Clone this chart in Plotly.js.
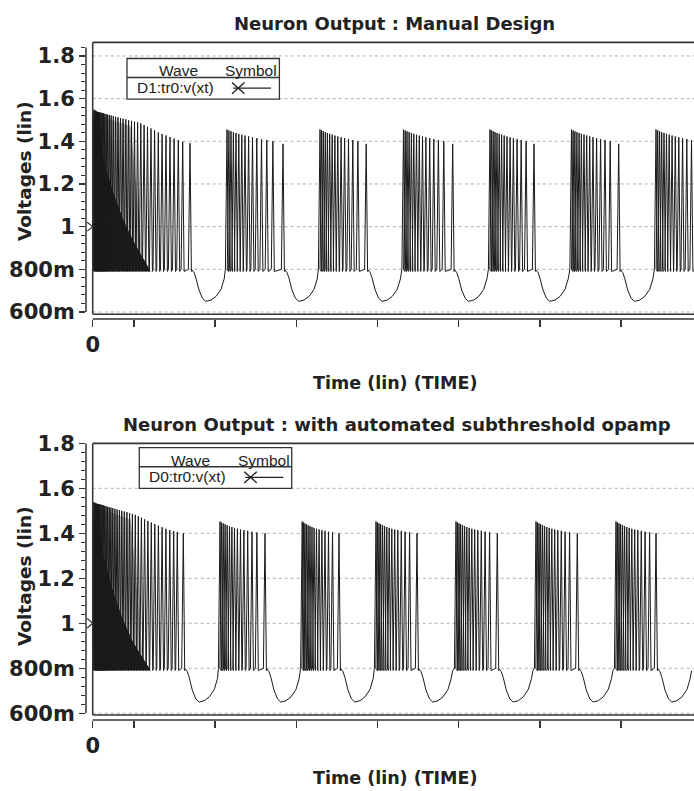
<!DOCTYPE html>
<html><head><meta charset="utf-8">
<script src="https://cdn.plot.ly/plotly-3.0.1.min.js"></script>
<style>html,body{margin:0;padding:0;background:#fff}</style>
</head><body><div id="chart" style="width:694px;height:791px"></div>
<script>
// ---------------- DATA (time in arbitrary units from 0, voltage in V) ----------------
const yTickVals = [0.6, 0.8, 1.0, 1.2, 1.4, 1.6, 1.8];
const yTickText = ['600m', '800m', '1', '1.2', '1.4', '1.6', '1.8'];
const xTickVals = [0, 41.3, 122.45, 203.6, 284.75, 365.9, 447.05, 528.2];
const xTickText = ['0', '', '', '', '', '', '', ''];

// spike times and spike peak voltages, chart 1 (Manual Design), one burst per line
const topSpikeTimes = [
  1.2, 2.1, 3.0, 3.9, 4.8, 5.7, 6.6, 7.5, 8.5, 9.6, 10.8, 12.1, 13.5, 15.0, 16.7, 18.5, 20.6, 22.9, 25.3, 27.8,
  30.4, 33.1, 35.9, 38.8, 41.8, 44.9, 48.1, 51.4, 54.8, 58.3, 61.9, 65.6, 69.4, 73.3, 77.3, 81.4, 85.6, 90.0, 97.3,
  134.3, 136.2, 138.3, 140.7, 143.3, 146.1, 149.1, 152.3, 155.9, 159.8, 164.1, 168.8, 174.1, 180.2, 190.3,
  227.3, 228.9, 230.6, 232.6, 234.7, 237.0, 239.5, 242.2, 245.1, 248.4, 251.9, 255.8, 260.1, 265.2, 273.5,
  310.8, 312.5, 314.3, 316.4, 318.7, 321.1, 323.8, 326.6, 329.8, 333.2, 337.0, 341.1, 345.7, 351.1, 360.0,
  397.3, 398.8, 400.5, 402.3, 404.3, 406.5, 408.9, 411.5, 414.3, 417.4, 420.7, 424.4, 428.5, 433.4, 441.3,
  478.8, 480.4, 482.2, 484.2, 486.4, 488.7, 491.3, 494.0, 497.0, 500.3, 503.9, 507.9, 512.3, 517.5, 526.0,
  563.3, 565.0, 566.9, 569.0, 571.3, 573.8, 576.5, 579.4, 582.6, 586.1, 589.9, 594.1, 598.8, 604.3, 613.3
];
const topSpikePeaks = [
  1.548, 1.545, 1.543, 1.540, 1.538, 1.537, 1.536, 1.535, 1.534, 1.532, 1.531, 1.529, 1.527, 1.525, 1.523, 1.521, 1.518, 1.515, 1.512, 1.509,
  1.506, 1.503, 1.499, 1.496, 1.492, 1.489, 1.484, 1.476, 1.468, 1.460, 1.451, 1.442, 1.434, 1.427, 1.420, 1.413, 1.405, 1.398, 1.391,
  1.455, 1.451, 1.447, 1.443, 1.439, 1.435, 1.431, 1.427, 1.423, 1.419, 1.415, 1.411, 1.406, 1.400, 1.388,
  1.455, 1.451, 1.447, 1.443, 1.439, 1.435, 1.431, 1.427, 1.423, 1.419, 1.415, 1.411, 1.406, 1.400, 1.388,
  1.455, 1.451, 1.447, 1.443, 1.439, 1.435, 1.431, 1.427, 1.423, 1.419, 1.415, 1.411, 1.406, 1.400, 1.388,
  1.455, 1.451, 1.447, 1.443, 1.439, 1.435, 1.431, 1.427, 1.423, 1.419, 1.415, 1.411, 1.406, 1.400, 1.388,
  1.455, 1.451, 1.447, 1.443, 1.439, 1.435, 1.431, 1.427, 1.423, 1.419, 1.415, 1.411, 1.406, 1.400, 1.388,
  1.455, 1.451, 1.447, 1.443, 1.439, 1.435, 1.431, 1.427, 1.423, 1.419, 1.415, 1.411, 1.406, 1.400, 1.388
];
// outline of the unresolved (solid black) dense-spiking region at the start, chart 1
const topDenseT = [0, 0, 5, 12, 20, 30, 40, 50, 58];
const topDenseV = [0.79, 1.52, 1.45, 1.30, 1.17, 1.04, 0.94, 0.86, 0.79];
// outline of the grey (closely spaced spikes) zone above it, chart 1
const topGreyT = [0, 10, 20, 30, 38, 50, 40, 30, 20, 12, 5, 0];
const topGreyV = [1.53, 1.515, 1.50, 1.485, 1.47, 0.86, 0.94, 1.04, 1.17, 1.30, 1.45, 1.52];

// spike times and spike peak voltages, chart 2 (automated subthreshold opamp), one burst per line
const botSpikeTimes = [
  1.1, 2.0, 2.9, 3.8, 4.7, 5.6, 6.5, 7.4, 8.4, 9.5, 10.7, 12.0, 13.4, 14.9, 16.5, 18.2, 20.1, 22.2, 24.4, 26.7,
  29.1, 31.6, 34.2, 36.9, 39.7, 42.6, 45.6, 48.7, 51.9, 55.2, 58.6, 62.1, 65.7, 69.4, 73.2, 77.1, 81.0, 84.6, 90.6,
  127.3, 128.8, 130.5, 132.4, 134.5, 136.8, 139.2, 141.8, 144.7, 147.8, 151.2, 155.0, 159.3, 164.2, 172.3,
  209.5, 210.8, 212.2, 213.7, 215.4, 217.3, 219.3, 221.4, 223.8, 226.4, 229.2, 232.3, 235.8, 239.8, 246.3,
  283.3, 284.7, 286.3, 288.0, 289.9, 291.9, 294.1, 296.5, 299.1, 302.0, 305.1, 308.6, 312.4, 316.9, 324.3,
  363.3, 364.7, 366.3, 368.0, 369.9, 371.9, 374.1, 376.5, 379.1, 382.0, 385.1, 388.6, 392.4, 396.9, 404.6,
  443.3, 444.7, 446.3, 448.0, 449.9, 451.9, 454.1, 456.5, 459.1, 462.0, 465.1, 468.6, 472.4, 476.9, 484.6,
  523.3, 524.7, 526.3, 528.0, 529.9, 531.9, 534.1, 536.5, 539.1, 542.0, 545.1, 548.6, 552.4, 556.9, 563.3
];
const botSpikePeaks = [
  1.538, 1.536, 1.534, 1.532, 1.531, 1.530, 1.529, 1.528, 1.527, 1.526, 1.524, 1.522, 1.520, 1.518, 1.516, 1.514, 1.512, 1.509, 1.506, 1.503,
  1.500, 1.497, 1.494, 1.490, 1.486, 1.482, 1.476, 1.469, 1.462, 1.455, 1.448, 1.441, 1.434, 1.427, 1.420, 1.414, 1.409, 1.405, 1.400,
  1.452, 1.448, 1.444, 1.440, 1.436, 1.432, 1.428, 1.424, 1.420, 1.417, 1.414, 1.411, 1.407, 1.404, 1.400,
  1.452, 1.448, 1.444, 1.440, 1.436, 1.432, 1.428, 1.424, 1.420, 1.417, 1.414, 1.411, 1.407, 1.404, 1.400,
  1.452, 1.448, 1.444, 1.440, 1.436, 1.432, 1.428, 1.424, 1.420, 1.417, 1.414, 1.411, 1.407, 1.404, 1.400,
  1.452, 1.448, 1.444, 1.440, 1.436, 1.432, 1.428, 1.424, 1.420, 1.417, 1.414, 1.411, 1.407, 1.404, 1.400,
  1.452, 1.448, 1.444, 1.440, 1.436, 1.432, 1.428, 1.424, 1.420, 1.417, 1.414, 1.411, 1.407, 1.404, 1.400,
  1.452, 1.448, 1.444, 1.440, 1.436, 1.432, 1.428, 1.424, 1.420, 1.417, 1.414, 1.411, 1.407, 1.404, 1.400
];
// outline of the unresolved (solid black) dense-spiking region at the start, chart 2
const botDenseT = [0, 0, 5, 12, 20, 30, 40, 50, 58];
const botDenseV = [0.79, 1.50, 1.43, 1.28, 1.15, 1.02, 0.92, 0.85, 0.79];
// outline of the grey (closely spaced spikes) zone above it, chart 2
const botGreyT = [0, 10, 20, 30, 38, 50, 40, 30, 20, 12, 5, 0];
const botGreyV = [1.51, 1.505, 1.49, 1.475, 1.46, 0.85, 0.92, 1.02, 1.15, 1.28, 1.43, 1.50];

// voltage at the foot of each spike (before / after)
const preSpikeV = 0.80;
const postSpikeV = 0.79;
// after-hyperpolarisation trough that follows the last spike of each burst (time after spike, voltage)
const ahpDt = [2.0, 4.0, 6.0, 9.0, 12.5, 15.8, 21.0, 26.0, 31.0, 34.2, 35.6];
const ahpV  = [0.797, 0.785, 0.758, 0.703, 0.664, 0.650, 0.656, 0.673, 0.706, 0.755, 0.789];

const titles = ['Neuron Output : Manual Design', 'Neuron Output : with automated subthreshold opamp'];
const legendLabels = ['D1:tr0:v(xt)', 'D0:tr0:v(xt)'];

// ---------------- BUILD ----------------
const RISE = 1.6, FALL = 1.4;   // spike foot half-widths (drawing style)
function buildWave(times, peaks) {
  const x = [], y = [];
  for (let i = 0; i < times.length; i++) {
    const t = times[i];
    x.push(Math.max(t - RISE, 0), t, t + FALL);
    y.push(preSpikeV, peaks[i], postSpikeV);
    const next = i + 1 < times.length ? times[i + 1] : Infinity;
    if (next - t > 20) {
      for (let j = 0; j < ahpDt.length; j++) {
        if (t + ahpDt[j] < next - RISE) { x.push(t + ahpDt[j]); y.push(ahpV[j]); }
      }
    }
  }
  return { x, y };
}

const W = 694, H = 791, ML = 86;
const pxX = v => (v - ML) / (W - ML);
const pxY = v => 1 - v / H;

const XMIN = -6.7, XMAX = 601.3;
const panels = [
  { xa: 'x', ya: 'y', dom: [pxY(319), pxY(42.3)], range: [0.5672, 1.864], rulerTop: 1.84, frameBot: 0.59,
    times: topSpikeTimes, peaks: topSpikePeaks, denseT: topDenseT, denseV: topDenseV, greyT: topGreyT, greyV: topGreyV,
    title: titles[0], titleX: 394, titleY: 23, xtitleY: 383, ytitleY: 171,
    leg: { l: 127, t: 58.5 }, label: legendLabels[0] },
  { xa: 'x2', ya: 'y2', dom: [pxY(720), pxY(443.3)], range: [0.5702, 1.8], rulerTop: 1.8, frameBot: 0.5924,
    times: botSpikeTimes, peaks: botSpikePeaks, denseT: botDenseT, denseV: botDenseV, greyT: botGreyT, greyV: botGreyV,
    title: titles[1], titleX: 397, titleY: 425, xtitleY: 778, ytitleY: 576,
    leg: { l: 139.3, t: 447.7 }, label: legendLabels[1] }
];

const boldFont = 'DejaVu Sans, Verdana, sans-serif';
const lineCol = '#333';
const traces = [], shapes = [], annotations = [];
const layout = {
  width: W, height: H, margin: { l: ML, r: 0, t: 0, b: 0 }, showlegend: false,
  paper_bgcolor: '#fff', plot_bgcolor: '#fff',
  font: { family: boldFont, color: '#222' }
};

panels.forEach((p, k) => {
  traces.push({ type: 'scatter', mode: 'lines', x: p.greyT, y: p.greyV, xaxis: p.xa, yaxis: p.ya,
    fill: 'toself', fillcolor: 'rgba(40,40,40,0.35)', line: { width: 0, color: 'rgba(0,0,0,0)' }, hoverinfo: 'skip' });
  traces.push({ type: 'scatter', mode: 'lines', x: p.denseT, y: p.denseV, xaxis: p.xa, yaxis: p.ya,
    fill: 'toself', fillcolor: '#1c1c1c', line: { width: 0, color: '#1c1c1c' }, hoverinfo: 'skip' });
  const w = buildWave(p.times, p.peaks);
  traces.push({ type: 'scatter', mode: 'lines', x: w.x, y: w.y, xaxis: p.xa, yaxis: p.ya,
    line: { color: '#1a1a1a', width: 1 }, hoverinfo: 'skip' });

  const xKey = k === 0 ? 'xaxis' : 'xaxis2';
  const yKey = k === 0 ? 'yaxis' : 'yaxis2';
  layout[xKey] = {
    domain: [0, 1], anchor: p.ya, range: [XMIN, XMAX], fixedrange: true,
    tickmode: 'array', tickvals: xTickVals, ticktext: xTickText,
    ticks: 'outside', ticklen: 7, tickwidth: 1.5, tickcolor: lineCol,
    showline: false, showgrid: false, zeroline: false,
    tickfont: { family: boldFont, size: 21, color: '#222', weight: 'bold' }
  };
  layout[yKey] = {
    domain: p.dom, anchor: p.xa, range: p.range, fixedrange: true,
    tickmode: 'array', tickvals: yTickVals, ticktext: yTickText,
    ticks: 'outside', ticklen: 6, tickwidth: 1.5, tickcolor: lineCol,
    minor: { tickmode: 'linear', tick0: 0.6, dtick: 0.04, ticks: 'outside', ticklen: 4, tickwidth: 1, tickcolor: lineCol, showgrid: false },
    showline: false, showgrid: false, zeroline: false,
    tickfont: { family: boldFont, size: 21, color: '#222', weight: 'bold' }
  };

  // dashed horizontal grid
  yTickVals.forEach(v => shapes.push({ type: 'line', layer: 'below', xref: p.xa, yref: p.ya,
    x0: 0, x1: XMAX, y0: v, y1: v, line: { color: '#b0b0b0', width: 1, dash: '3px,3px' } }));
  // frame
  shapes.push({ type: 'line', xref: p.xa, yref: p.ya, x0: 0, x1: 0, y0: p.frameBot, y1: p.range[1], line: { color: lineCol, width: 1.5 } });
  shapes.push({ type: 'line', xref: p.xa, yref: 'paper', x0: 0, x1: XMAX, y0: p.dom[1], y1: p.dom[1], line: { color: lineCol, width: 1.8 } });
  shapes.push({ type: 'line', xref: p.xa, yref: p.ya, x0: 0, x1: XMAX, y0: p.frameBot, y1: p.frameBot, line: { color: lineCol, width: 1.5 } });
  // rulers
  shapes.push({ type: 'line', xref: 'paper', yref: p.ya, x0: 0, x1: 0, y0: 0.6, y1: p.rulerTop, line: { color: lineCol, width: 1.5 } });
  shapes.push({ type: 'line', xref: p.xa, yref: 'paper', x0: 0, x1: XMAX, y0: p.dom[0], y1: p.dom[0], line: { color: lineCol, width: 1.5 } });
  // cursor marker at 1 V
  shapes.push({ type: 'path', xref: p.xa, yref: p.ya, path: 'M -5.5,1.021 L 0,1 L -5.5,0.979', line: { color: lineCol, width: 1.2 } });

  // legend box
  const L = p.leg.l, T = p.leg.t;
  shapes.push({ type: 'rect', xref: 'paper', yref: 'paper', x0: pxX(L), x1: pxX(L + 152.4), y0: pxY(T + 40.6), y1: pxY(T),
    line: { color: lineCol, width: 1.3 }, fillcolor: '#fff' });
  shapes.push({ type: 'line', xref: 'paper', yref: 'paper', x0: pxX(L), x1: pxX(L + 152.4), y0: pxY(T + 19), y1: pxY(T + 19),
    line: { color: lineCol, width: 1.5 } });
  shapes.push({ type: 'line', xref: 'paper', yref: 'paper', x0: pxX(L + 106), x1: pxX(L + 144), y0: pxY(T + 29.6), y1: pxY(T + 29.6),
    line: { color: '#222', width: 1.3 } });
  shapes.push({ type: 'line', xref: 'paper', yref: 'paper', x0: pxX(L + 105), x1: pxX(L + 117.5), y0: pxY(T + 24), y1: pxY(T + 35.2),
    line: { color: '#222', width: 1.4 } });
  shapes.push({ type: 'line', xref: 'paper', yref: 'paper', x0: pxX(L + 105), x1: pxX(L + 117.5), y0: pxY(T + 35.2), y1: pxY(T + 24),
    line: { color: '#222', width: 1.4 } });
  const legFont = { family: 'Liberation Sans, Arial, sans-serif', size: 15.5, color: '#222' };
  annotations.push({ xref: 'paper', yref: 'paper', x: pxX(L + 51), y: pxY(T + 12.3), text: 'Wave', showarrow: false, xanchor: 'center', yanchor: 'middle', font: legFont });
  annotations.push({ xref: 'paper', yref: 'paper', x: pxX(L + 124.4), y: pxY(T + 12.3), text: 'Symbol', showarrow: false, xanchor: 'center', yanchor: 'middle', font: legFont });
  annotations.push({ xref: 'paper', yref: 'paper', x: pxX(L + 48.2), y: pxY(T + 29), text: p.label, showarrow: false, xanchor: 'center', yanchor: 'middle', font: legFont });

  // titles
  const tf = { family: boldFont, size: 18, color: '#222', weight: 'bold' };
  annotations.push({ xref: 'paper', yref: 'paper', x: pxX(p.titleX), y: pxY(p.titleY), text: '<b>' + p.title + '</b>', showarrow: false, xanchor: 'center', yanchor: 'middle', font: tf });
  annotations.push({ xref: 'paper', yref: 'paper', x: pxX(396), y: pxY(p.xtitleY), text: '<b>Time (lin) (TIME)</b>', showarrow: false, xanchor: 'center', yanchor: 'middle', font: { family: boldFont, size: 17.5, color: '#222' } });
  annotations.push({ xref: 'paper', yref: 'paper', x: pxX(24), y: pxY(p.ytitleY), text: '<b>Voltages (lin)</b>', textangle: -90, showarrow: false, xanchor: 'center', yanchor: 'middle', font: { family: boldFont, size: 18.5, color: '#222' } });
});

layout.shapes = shapes;
layout.annotations = annotations;
Plotly.newPlot('chart', traces, layout, { displayModeBar: false, staticPlot: true });
</script></body></html>
